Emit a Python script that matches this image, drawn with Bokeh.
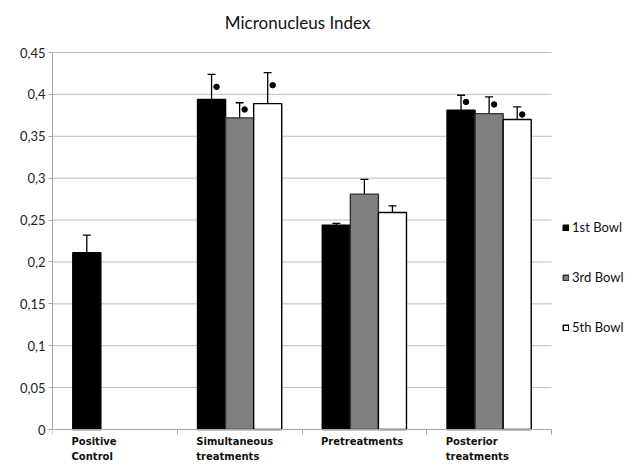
from bokeh.plotting import figure
from bokeh.models import (ColumnDataSource, Whisker, TeeHead, FixedTicker, Legend, LegendItem)
from bokeh.core.properties import value
from bokeh.embed import file_html
from bokeh.resources import INLINE

# ---- data ----
title_text = "Micronucleus Index"
categories = ["Positive\nControl", "Simultaneous\ntreatments", "Pretreatments", "Posterior\ntreatments"]
series_names = ["1st Bowl", "3rd Bowl", "5th Bowl"]
bowl1 = [0.211, 0.394, 0.244, 0.381]
bowl1_err = [0.021, 0.030, 0.002, 0.018]
bowl3 = [None, 0.372, 0.281, 0.377]
bowl3_err = [None, 0.018, 0.0175, 0.020]
bowl5 = [None, 0.389, 0.259, 0.370]
bowl5_err = [None, 0.037, 0.008, 0.015]
# significance dots
bowl1_sig = [None, 0.409, None, 0.391]
bowl3_sig = [None, 0.382, None, 0.388]
bowl5_sig = [None, 0.411, None, 0.376]
y_ticks = [0, 0.05, 0.1, 0.15, 0.2, 0.25, 0.3, 0.35, 0.4, 0.45]
y_tick_labels = ["0", "0,05", "0,1", "0,15", "0,2", "0,25", "0,3", "0,35", "0,4", "0,45"]

# ---- layout / styles ----
W, H = 624, 464
left = 52
axis_px = 499          # width of the category axis
top_px = 52            # page y of the top tick
zero_px = 429          # page y of value 0
title_px = 22          # page y of the title's centre
n_cat = len(categories)
y_max = y_ticks[-1]
px_per_unit = (zero_px - top_px) / y_max
y_min = -(H - zero_px) / px_per_unit
y_top = y_max + top_px / px_per_unit
x_max = n_cat * (W - left) / axis_px

bar_w = 0.225
fills = ["#000000", "#808080", "#ffffff"]
lines = ["#000000", "#333333", "#000000"]
offsets = [-bar_w, 0.0, bar_w]
dot_dx = 0.04

p = figure(width=W, height=H, output_backend="svg", toolbar_location=None,
           x_range=(0, x_max), y_range=(y_min, y_top),
           min_border_left=left, min_border_right=0, min_border_top=0, min_border_bottom=0)
p.outline_line_color = None
p.background_fill_color = "white"
p.xgrid.visible = False
p.ygrid.visible = False

# title
p.text(x=[n_cat / 2 - 0.035], y=[y_max + (top_px - title_px) / px_per_unit], text=[title_text],
       text_align="center", text_baseline="middle", text_font=value("Lato"),
       text_font_size="17px", text_color="#111111")

# horizontal grid lines across the category axis only
p.segment(x0=[0] * len(y_ticks), x1=[n_cat] * len(y_ticks), y0=y_ticks, y1=y_ticks,
          line_color="#bdbdbd", line_width=1, level="underlay")

all_vals = [bowl1, bowl3, bowl5]
all_err = [bowl1_err, bowl3_err, bowl5_err]
all_sig = [bowl1_sig, bowl3_sig, bowl5_sig]

legend_items = []
for k in range(3):
    xs, tops, ups, lows, sx, sy = [], [], [], [], [], []
    for i in range(n_cat):
        v = all_vals[k][i]
        if v is None:
            continue
        x = i + 0.5 + (offsets[k] if i > 0 else -bar_w)
        xs.append(x)
        tops.append(v)
        e = all_err[k][i]
        ups.append(v + e)
        lows.append(v - e)
        s = all_sig[k][i]
        if s is not None:
            sx.append(x + dot_dx)
            sy.append(s)
    src = ColumnDataSource(dict(x=xs, top=tops, upper=ups, lower=lows))
    r = p.vbar(x="x", top="top", width=bar_w, bottom=0, source=src,
               fill_color=fills[k], line_color=lines[k], line_width=1.4)
    legend_items.append(LegendItem(label=series_names[k], renderers=[r]))
    w = Whisker(base="x", upper="upper", lower="lower", source=src, dimension="height",
                line_color="black", line_width=1.3,
                upper_head=TeeHead(size=8, line_color="black", line_width=1.3),
                lower_head=TeeHead(size=8, line_color="black", line_width=1.3))
    p.add_layout(w)
    if sx:
        p.scatter(x=sx, y=sy, size=5.5, marker="circle", fill_color="black", line_color="black")

# category labels, left-aligned at each group's first bar
lab_x = [i + 0.5 - 1.5 * bar_w - 0.01 for i in range(n_cat)]
lab_y = [-6 / px_per_unit] * n_cat
p.text(x=lab_x, y=lab_y, text=categories, text_align="left", text_baseline="top",
       text_font=value("DejaVu Sans"), text_font_style="bold", text_font_size="10px",
       text_color="#111111", text_line_height=1.4)

# y axis
p.yaxis.ticker = FixedTicker(ticks=y_ticks)
p.yaxis.bounds = (0, y_max)
p.yaxis.major_label_overrides = {t: l for t, l in zip(y_ticks, y_tick_labels)}
p.yaxis.axis_line_color = "#a6a6a6"
p.yaxis.major_tick_line_color = "#a6a6a6"
p.yaxis.major_tick_out = 4
p.yaxis.major_tick_in = 0
p.yaxis.minor_tick_line_color = None
p.yaxis.major_label_text_font = "Lato"
p.yaxis.major_label_text_font_size = "13px"
p.yaxis.major_label_text_color = "#222222"
p.yaxis.major_label_standoff = 3

# x axis at value 0 with category separators
p.xaxis.fixed_location = 0
p.xaxis.bounds = (0, n_cat)
p.xaxis.ticker = FixedTicker(ticks=[], minor_ticks=list(range(n_cat + 1)))
p.xaxis.major_tick_line_color = None
p.xaxis.major_label_text_font_size = "0px"
p.xaxis.minor_tick_line_color = "#a6a6a6"
p.xaxis.minor_tick_out = 5
p.xaxis.minor_tick_in = 0
p.xaxis.axis_line_color = "#a6a6a6"

legend = Legend(items=legend_items, location=(510, 127), orientation="vertical",
                glyph_width=7, glyph_height=7, label_standoff=3, spacing=30,
                label_height=20, padding=0, margin=0,
                label_text_font="Lato", label_text_font_size="13px", label_text_color="#111111",
                border_line_color=None, background_fill_alpha=0)
p.add_layout(legend)

open("out.html", "w").write(file_html(p, INLINE))
